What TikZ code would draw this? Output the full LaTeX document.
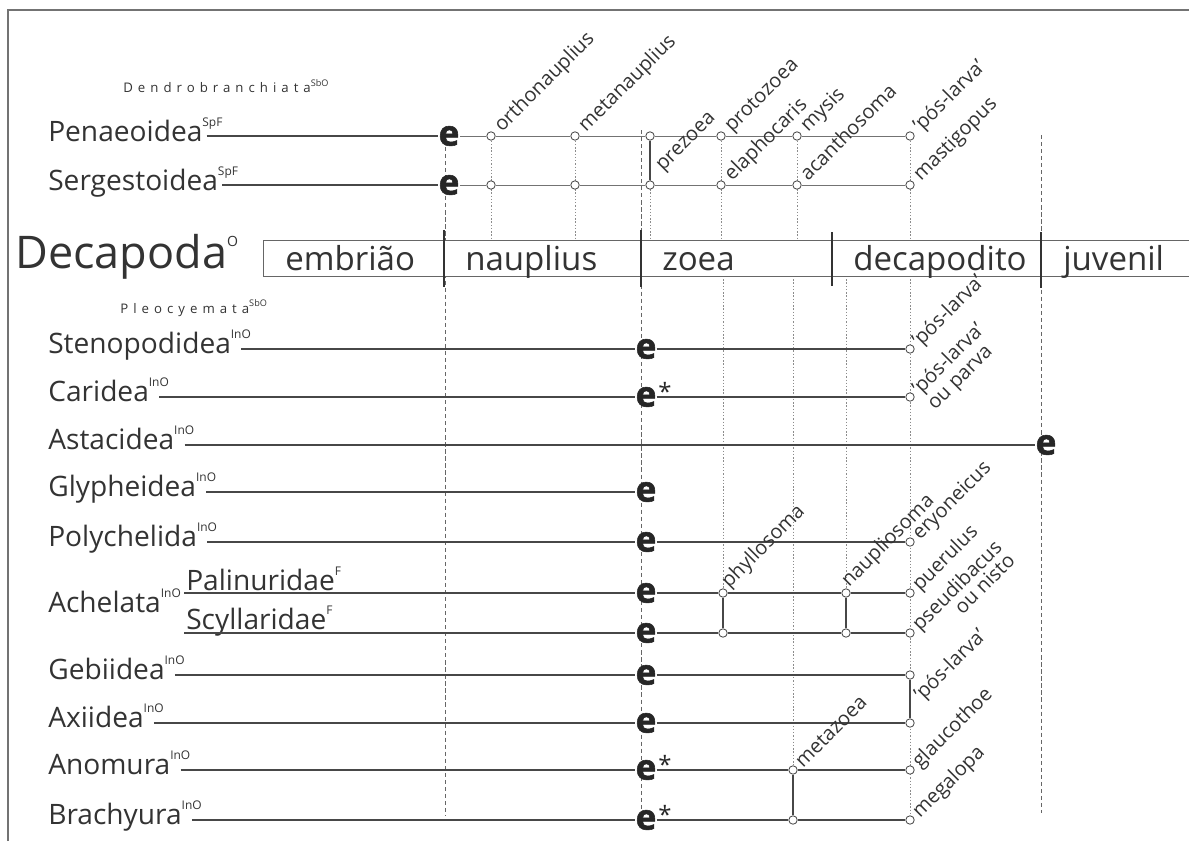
\documentclass[tikz,border=0pt]{standalone}
\usepackage{fontspec}
\setmainfont{Open Sans}
\usetikzlibrary{calc,backgrounds}

\newcommand{\rank}[1]{\raisebox{10pt}{\fontsize{8.5}{9}\selectfont #1}}
\newcommand{\subrank}[1]{\raisebox{4.5pt}{\fontsize{6.5}{6.5}\selectfont #1}}
\newcommand{\spaced}[1]{{\addfontfeature{LetterSpace=38}#1}}

\tikzset{
  taxon/.style={anchor=base west, inner sep=0pt, text=black!80, font=\fontsize{20}{23}\selectfont},
  clade/.style={anchor=base west, inner sep=0pt, text=black!80, font=\fontsize{9.4}{10}\selectfont},
  phase/.style={anchor=base west, inner sep=0pt, text=black!80, font=\fontsize{23.5}{26}\selectfont},
  egg/.style={inner sep=0pt, text=black!85, font=\fontsize{25}{25}\selectfont\bfseries\addfontfeature{FakeBold=1.6}},
  asterisk/.style={anchor=base, inner sep=0pt, text=black!85, font=\fontsize{17}{17}\selectfont},
  stage/.style={circle, draw=black!70, fill=white, line width=0.6pt, minimum size=6pt, inner sep=0pt},
  larva/.style={rotate=45, anchor=base west, inner sep=0pt, text=black!80, font=\fontsize{14.2}{17}\selectfont},
  stem/.style={draw=black!72, line width=1pt},
  link/.style={draw=black!55, line width=0.7pt},
  guide/.style={draw=black!45, line width=0.5pt, dash pattern=on 1pt off 1.3pt},
  split/.style={draw=black!60, line width=0.6pt, dash pattern=on 3pt off 2pt},
}

\begin{document}
\begin{tikzpicture}[x=0.025cm, y=-0.025cm]
\useasboundingbox (0,0) rectangle (1189,841);
\draw[black!55, line width=0.8pt] (8,841) -- (8,10) -- (1189,10); % frame

% stage bar
\fill[white] (263,240) rectangle (1189,276);
\draw[black!60, line width=0.6pt] (1189,240) -- (263,240) -- (263,276) -- (1189,276);
\foreach \x/\a/\b in {444/230/287, 641/230/287, 832/232/286, 1041/232/288}
  \draw[black!80, line width=1.1pt] (\x,\a) -- (\x,\b); % stage limits
\node[phase] (emb) at (285,270) {embrião};
\node[phase] (nau) at (465,270) {nauplius};
\node[phase] (zoe) at (662,270) {zoea};
\node[phase] (dec) at (853,270) {decapodito};
\node[phase] (juv) at (1063,270) {juvenil};
\node[taxon, font=\fontsize{32}{34}\selectfont] (deca) at (15,268) {Decapoda\raisebox{15pt}{\fontsize{10}{10}\selectfont O}};

% Dendrobranchiata
\node[clade] (dendro) at (123,93) {\spaced{Dendrobranchiata}\subrank{SbO}};
\node[taxon] (pen) at (48,141) {Penaeoidea\rlap{\rank{SpF}}};
\node[taxon] (ser) at (48,190) {Sergestoidea\rlap{\rank{SpF}}};
\node[egg] (pen-e) at (449,136) {e};
\node[egg] (ser-e) at (449,185) {e};
\foreach \n/\x in {1/491,2/575,3/650,4/721,5/797,6/910} {
  \node[stage] (p\n) at (\x,136) {};
  \node[stage] (s\n) at (\x,185) {};
}
\draw[stem] ($(pen.east |- pen-e)+(4,0)$) -- (pen-e);
\draw[stem] ($(ser.east |- ser-e)+(4,0)$) -- (ser-e);
\draw[link] (pen-e) -- (p1) -- (p2) -- (p3) -- (p4) -- (p5) -- (p6);
\draw[link] (ser-e) -- (s1) -- (s2) -- (s3) -- (s4) -- (s5) -- (s6);
\draw[stem] (p3) -- (s3); % prezoea
\foreach \c/\t in {p1/orthonauplius, p2/metanauplius, p4/protozoea, p5/mysis, p6/’pós-larva’, s4/elaphocaris, s5/acanthosoma, s6/mastigopus}
  \node[larva] (\c-l) at ($(\c)+(11,-3)$) {\t};
\node[larva] (pre) at (663,172) {prezoea};

% Pleocyemata
\node[clade] (pleo) at (120,313) {\spaced{Pleocyemata}\subrank{SbO}};
\node[taxon] (sten) at (48,353) {Stenopodidea\rlap{\rank{InO}}};
\node[taxon] (cari) at (48,401) {Caridea\rlap{\rank{InO}}};
\node[taxon] (asta) at (48,449) {Astacidea\rlap{\rank{InO}}};
\node[taxon] (glyp) at (48,496) {Glypheidea\rlap{\rank{InO}}};
\node[taxon] (poly) at (48,546) {Polychelida\rlap{\rank{InO}}};
\node[taxon] (ache) at (48,612) {Achelata\rank{InO}};
\node[taxon] (pali) at (186,590) {Palinuridae\rlap{\rank{F}}};
\node[taxon] (scyl) at (186,629) {Scyllaridae\rlap{\rank{F}}};
\node[taxon] (gebi) at (48,679) {Gebiidea\rlap{\rank{InO}}};
\node[taxon] (axii) at (48,727) {Axiidea\rlap{\rank{InO}}};
\node[taxon] (anom) at (48,774) {Anomura\rlap{\rank{InO}}};
\node[taxon] (brac) at (48,824) {Brachyura\rlap{\rank{InO}}};

\foreach \r/\y in {sten/349, cari/397, glyp/492, poly/542, pali/593, scyl/633, gebi/675, axii/723, anom/770, brac/820}
  \node[egg] (\r-e) at (646,\y) {e};
\node[egg] (asta-e) at (1046,445) {e};
\foreach \r in {cari, anom, brac}
  \node[asterisk] (\r-s) at ($(\r-e)+(19,3)$) {*};

\foreach \r/\y in {sten/349, cari/397, poly/542, gebi/675, axii/723}
  \node[stage] (\r-c) at (910,\y) {};
\node[stage] (a1) at (723,593) {};
\node[stage] (a2) at (846,593) {};
\node[stage] (a3) at (910,593) {};
\node[stage] (b1) at (723,633) {};
\node[stage] (b2) at (846,633) {};
\node[stage] (b3) at (910,633) {};
\node[stage] (n1) at (793,770) {};
\node[stage] (n2) at (910,770) {};
\node[stage] (r1) at (793,820) {};
\node[stage] (r2) at (910,820) {};

\draw[stem] ($(sten.east |- sten-e)+(10,0)$) -- (sten-e) -- (sten-c);
\draw[stem] ($(cari.east |- cari-e)+(10,0)$) -- (cari-e) -- (cari-c);
\draw[stem] ($(asta.east |- asta-e)+(10,0)$) -- (asta-e);
\draw[stem] ($(glyp.east |- glyp-e)+(10,0)$) -- (glyp-e);
\draw[stem] ($(poly.east |- poly-e)+(10,0)$) -- (poly-e) -- (poly-c);
\draw[stem] ($(pali.west |- pali-e)+(-2,0)$) -- (pali-e) -- (a1) -- (a2) -- (a3);
\draw[stem] ($(scyl.west |- scyl-e)+(-2,0)$) -- (scyl-e) -- (b1) -- (b2) -- (b3);
\draw[stem] ($(gebi.east |- gebi-e)+(10,0)$) -- (gebi-e) -- (gebi-c);
\draw[stem] ($(axii.east |- axii-e)+(10,0)$) -- (axii-e) -- (axii-c);
\draw[stem] ($(anom.east |- anom-e)+(10,0)$) -- (anom-e) -- (n1) -- (n2);
\draw[stem] ($(brac.east |- brac-e)+(10,0)$) -- (brac-e) -- (r1) -- (r2);
\draw[stem] (a1) -- (b1); % phyllosoma
\draw[stem] (a2) -- (b2); % naupliosoma
\draw[stem] (gebi-c) -- (axii-c);
\draw[stem] (n1) -- (r1); % metazoea

\foreach \c/\t in {sten-c/’pós-larva’, cari-c/’pós-larva’, poly-c/eryoneicus, a3/puerulus, b3/pseudibacus, n1/metazoea, n2/glaucothoe, r2/megalopa}
  \node[larva] (\c-l) at ($(\c)+(10,-1)$) {\t};
\node[larva] (a1-l) at ($(a1)+(6,-4)$) {phyllosoma};
\node[larva] (a2-l) at ($(a2)+(3,-5)$) {naupliosoma};
\node[larva] (cari-l2) at ($(cari-c-l.base west)+(15,15)$) {ou parva};
\node[larva, anchor=base east] (b3-l2) at ($(b3-l.base east)+(13,13)$) {ou nisto};
\node[larva] (gebi-l) at (922,702) {’pós-larva’};

% guides behind everything
\begin{scope}[on background layer]
\foreach \x/\a/\b in {445/140/815, 641/130/815, 1041/135/813}
  \draw[split] (\x,\a) -- (\x,\b);
\foreach \n in {1,...,6}
  \draw[guide] (p\n) -- (p\n |- 0,240);
\foreach \c in {a1, a2, n1, r2}
  \draw[guide] (\c |- 0,276) -- (\c);
\end{scope}
\end{tikzpicture}
\end{document}
